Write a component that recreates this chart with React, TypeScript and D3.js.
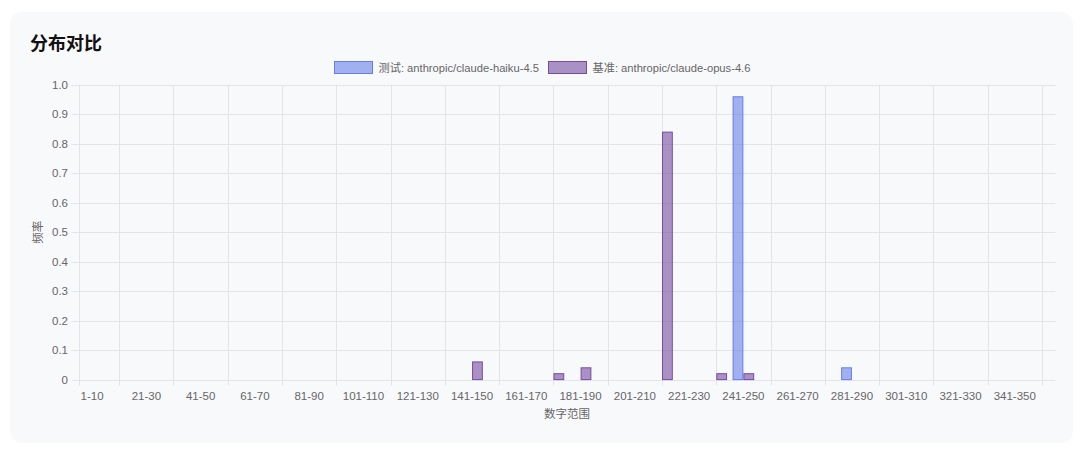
import React from "react";
import { scaleBand, scaleLinear } from "d3";

const categories = [
  "1-10", "11-20", "21-30", "31-40", "41-50", "51-60", "61-70", "71-80",
  "81-90", "91-100", "101-110", "111-120", "121-130", "131-140", "141-150", "151-160",
  "161-170", "171-180", "181-190", "191-200", "201-210", "211-220", "221-230", "231-240",
  "241-250", "251-260", "261-270", "271-280", "281-290", "291-300", "301-310", "311-320",
  "321-330", "331-340", "341-350", "351-360",
];

// 测试: anthropic/claude-haiku-4.5
const testValues = [
  0, 0, 0, 0, 0, 0, 0, 0,
  0, 0, 0, 0, 0, 0, 0, 0,
  0, 0, 0, 0, 0, 0, 0, 0,
  0.96, 0, 0, 0, 0.04, 0, 0, 0,
  0, 0, 0, 0,
];

// 基准: anthropic/claude-opus-4.6
const baseValues = [
  0, 0, 0, 0, 0, 0, 0, 0,
  0, 0, 0, 0, 0, 0, 0.06, 0,
  0, 0.02, 0.04, 0, 0, 0.84, 0, 0.02,
  0.02, 0, 0, 0, 0, 0, 0, 0,
  0, 0, 0, 0,
];

const yTicks = [0, 0.1, 0.2, 0.3, 0.4, 0.5, 0.6, 0.7, 0.8, 0.9, 1.0];

const series = [
  { key: "test", label: "测试: anthropic/claude-haiku-4.5", values: testValues, fill: "rgba(102,126,234,0.6)", stroke: "#667eea" },
  { key: "base", label: "基准: anthropic/claude-opus-4.6", values: baseValues, fill: "rgba(118,75,162,0.6)", stroke: "#764ba2" },
];

const W = 1080;
const H = 453;
const left = 78.5;
const right = 1055.5;
const top = 85;
const bottom = 379.6;
const font = "'Liberation Sans', Arial, 'Noto Sans CJK SC', sans-serif";
const grid = "#e3e4e8";
const textColor = "#666";

export default function App() {
  const x = scaleBand().domain(categories).range([left, right]).paddingInner(0).paddingOuter(0);
  const bw = x.bandwidth();
  const xSub = scaleBand().domain(series.map((s) => s.key)).range([0, bw * 0.8]);
  const y = scaleLinear().domain([0, 1]).range([bottom, top]);

  const shown = categories.map((c, i) => ({ c, i })).filter((d) => d.i % 2 === 0);
  const vLines = [left, ...shown.map((d) => x(d.c)! + bw * 1.5)];

  return (
    <div style={{ position: "absolute", left: 0, top: 0 }}>
      <svg width={W} height={H} style={{ display: "block", background: "#fff" }}>
        <rect x={10} y={12} width={1063} height={431} rx={12} fill="#f8f9fb" />
        <text x={30} y={50} fontFamily="'Noto Sans CJK SC', sans-serif" fontWeight="bold" fontSize={18} fill="#111">
          分布对比
        </text>

        {/* legend */}
        <g fontFamily={font} fontSize={11.2} fill={textColor}>
          {series.map((s, i) => {
            const lx = i === 0 ? 334.5 : 548.5;
            return (
              <g key={s.key}>
                <rect x={lx} y={61.5} width={38} height={12} fill={s.fill} stroke={s.stroke} strokeWidth={1} />
                <text x={lx + 44} y={71.5}>{s.label}</text>
              </g>
            );
          })}
        </g>

        {/* grid */}
        {yTicks.map((t) => (
          <line key={t} x1={left - 7} x2={right} y1={Math.round(y(t)) + 0.5} y2={Math.round(y(t)) + 0.5} stroke={grid} strokeWidth={1} />
        ))}
        {vLines.map((vx, i) => (
          <line key={i} x1={Math.round(vx) + 0.5} x2={Math.round(vx) + 0.5} y1={top} y2={bottom + 6} stroke={grid} strokeWidth={1} />
        ))}

        {/* y ticks */}
        <g fontFamily={font} fontSize={11.5} fill={textColor} textAnchor="end">
          {yTicks.map((t) => (
            <text key={t} x={68} y={y(t) + 4}>{t === 0 ? "0" : t.toFixed(1)}</text>
          ))}
        </g>

        {/* x ticks */}
        <g fontFamily={font} fontSize={11.5} fill={textColor} textAnchor="middle">
          {shown.map((d) => (
            <text key={d.c} x={x(d.c)! + bw / 2} y={400}>{d.c}</text>
          ))}
        </g>

        {/* bars */}
        {series.map((s) => (
          <g key={s.key}>
            {s.values.map((v, i) => {
              if (!v) return null;
              const slot = xSub.bandwidth();
              const bx = x(categories[i])! + bw * 0.1 + xSub(s.key)! + slot * 0.05;
              return (
                <rect
                  key={i}
                  x={bx}
                  y={y(v)}
                  width={slot * 0.9}
                  height={bottom - y(v)}
                  fill={s.fill}
                  stroke={s.stroke}
                  strokeWidth={1}
                />
              );
            })}
          </g>
        ))}

        {/* axis titles */}
        <text x={(left + right) / 2} y={418} textAnchor="middle" fontFamily={font} fontSize={11.5} fill={textColor}>
          数字范围
        </text>
        <text
          transform={`translate(42, ${(top + bottom) / 2}) rotate(-90)`}
          textAnchor="middle"
          fontFamily={font}
          fontSize={11.5}
          fill={textColor}
        >
          频率
        </text>
      </svg>
    </div>
  );
}
